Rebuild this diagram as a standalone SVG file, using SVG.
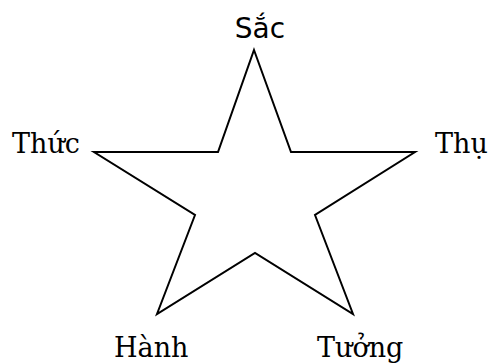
<svg xmlns="http://www.w3.org/2000/svg" width="489" height="364" viewBox="0 0 489 364">
<style>
.serif{font-family:"DejaVu Serif",serif;font-size:27px;fill:#000}
.sans{font-family:"DejaVu Sans",sans-serif;font-size:28px;fill:#000}
.star{fill:#fff;stroke:#000;stroke-width:2;stroke-linejoin:miter}
</style>
<rect width="489" height="364" fill="#fff"/>
<g id="connectors">
<polygon class="star" points="254,50 291,152 415,152 315,215 353,314 255,253 157,314 195,215 94,152 218,152"/>
</g>
<g id="sac"><text class="sans" x="260" y="38" text-anchor="middle">Sắc</text></g>
<g id="thu"><text class="serif" x="435" y="153">Thụ</text></g>
<g id="tuong"><text class="serif" x="317" y="357">Tưởng</text></g>
<g id="hanh"><text class="serif" x="114" y="357">Hành</text></g>
<g id="thuc"><text class="serif" x="12" y="153">Thức</text></g>
</svg>
